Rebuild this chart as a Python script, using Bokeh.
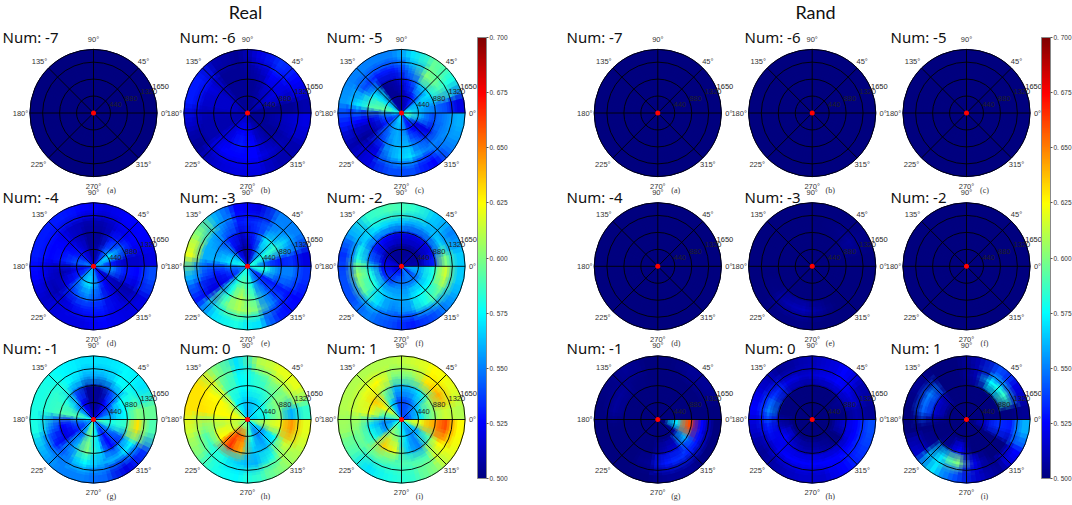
from math import cos, sin, radians
from bokeh.plotting import figure, ColumnDataSource
from bokeh.models import LinearColorMapper, ColorBar, FixedTicker, Range1d, CustomJSTickFormatter
from bokeh.core.properties import value
from bokeh.transform import transform
from bokeh.embed import file_html
from bokeh.resources import INLINE

# every panel: 16 sectors (0-22.5 deg first, going anticlockwise), 5 rings (centre first)
flat = [[.5, .5, .5, .5, .5] for s in range(16)]

real_m7 = flat
real_m6 = [[.505,.505,.505,.505,.51],[.51,.515,.52,.52,.525],[.505,.51,.515,.525,.535],[.505,.505,.505,.51,.52],
	[.505,.505,.505,.505,.505],[.505,.505,.505,.505,.51],[.51,.515,.515,.52,.53],[.51,.515,.515,.515,.53],
	[.51,.51,.51,.51,.515],[.51,.51,.51,.51,.505],[.515,.52,.52,.525,.515],[.515,.525,.53,.525,.52],
	[.51,.52,.525,.525,.52],[.505,.51,.51,.515,.51],[.505,.505,.505,.51,.51],[.505,.505,.51,.515,.52]]
real_m5 = [[.58,.56,.55,.54,.52],[.56,.56,.57,.59,.58],[.52,.53,.56,.60,.595],[.51,.515,.53,.55,.57],
	[.505,.505,.51,.53,.55],[.51,.505,.505,.53,.55],[.56,.57,.57,.54,.55],[.58,.595,.59,.57,.555],
	[.56,.54,.52,.525,.53],[.54,.53,.51,.505,.51],[.56,.55,.54,.52,.52],[.57,.56,.56,.56,.54],
	[.55,.55,.56,.57,.54],[.53,.525,.54,.55,.525],[.57,.52,.52,.55,.55],[.59,.56,.54,.55,.56]]
real_m4 = [[.56,.53,.515,.515,.52],[.56,.57,.545,.525,.525],[.53,.54,.53,.52,.525],[.51,.51,.505,.51,.52],
	[.51,.505,.505,.51,.525],[.52,.52,.515,.515,.53],[.54,.53,.525,.525,.53],[.55,.54,.53,.525,.53],
	[.53,.52,.51,.515,.525],[.54,.53,.52,.51,.515],[.56,.56,.54,.52,.52],[.56,.57,.55,.53,.52],
	[.55,.55,.54,.53,.525],[.53,.525,.52,.52,.52],[.52,.515,.51,.51,.52],[.55,.55,.53,.525,.54]]
real_m3 = [[.58,.545,.53,.535,.52],[.58,.58,.585,.565,.55],[.54,.555,.57,.55,.55],[.51,.52,.53,.535,.52],
	[.51,.505,.515,.53,.525],[.53,.52,.53,.55,.56],[.57,.56,.55,.56,.60],[.58,.57,.56,.56,.62],
	[.55,.54,.53,.54,.56],[.55,.53,.52,.52,.53],[.58,.58,.58,.59,.57],[.58,.595,.61,.61,.58],
	[.57,.58,.59,.60,.57],[.55,.545,.55,.55,.53],[.54,.53,.53,.53,.525],[.58,.58,.55,.55,.535]]
real_m2 = [[.51,.51,.53,.60,.565],[.51,.505,.52,.565,.55],[.51,.505,.52,.56,.565],[.505,.505,.52,.56,.585],
	[.505,.505,.52,.565,.59],[.505,.505,.525,.57,.585],[.51,.51,.53,.565,.56],[.52,.52,.545,.58,.535],
	[.52,.53,.58,.605,.54],[.52,.535,.58,.595,.54],[.53,.54,.565,.57,.55],[.53,.55,.56,.55,.54],
	[.54,.55,.56,.555,.53],[.55,.55,.575,.58,.54],[.53,.55,.575,.595,.555],[.56,.56,.58,.615,.565]]
real_m1 = [[.555,.56,.575,.60,.595],[.53,.545,.575,.58,.57],[.52,.525,.54,.575,.575],[.51,.505,.505,.56,.57],
	[.51,.505,.505,.56,.57],[.52,.525,.54,.575,.575],[.55,.56,.58,.585,.58],[.58,.59,.59,.585,.58],
	[.56,.54,.525,.55,.58],[.55,.53,.52,.53,.56],[.57,.55,.56,.55,.55],[.60,.595,.60,.575,.55],
	[.57,.57,.57,.56,.545],[.545,.525,.525,.56,.52],[.55,.55,.54,.575,.535],[.59,.58,.585,.63,.59]]
real_0 = [[.565,.58,.60,.56,.585],[.57,.58,.60,.60,.62],[.565,.57,.585,.60,.62],[.56,.565,.58,.585,.61],
	[.56,.565,.575,.575,.57],[.57,.575,.585,.595,.60],[.60,.615,.625,.625,.63],[.62,.625,.625,.63,.63],
	[.61,.615,.61,.60,.615],[.60,.62,.625,.585,.60],[.60,.66,.665,.58,.58],[.60,.65,.64,.565,.575],
	[.59,.58,.565,.56,.585],[.56,.55,.56,.58,.60],[.575,.56,.575,.615,.61],[.60,.61,.62,.645,.62]]
real_1 = [[.54,.57,.60,.615,.61],[.54,.565,.60,.64,.62],[.54,.55,.57,.63,.625],[.54,.54,.56,.60,.615],
	[.54,.54,.56,.60,.61],[.56,.57,.60,.625,.61],[.60,.625,.635,.62,.61],[.59,.59,.62,.615,.61],
	[.56,.55,.57,.60,.605],[.58,.555,.58,.595,.59],[.59,.61,.635,.595,.57],[.58,.60,.62,.59,.58],
	[.565,.57,.565,.59,.585],[.56,.55,.55,.59,.60],[.58,.56,.59,.625,.62],[.61,.62,.64,.66,.625]]

rand_m7 = flat
rand_m6 = flat
rand_m5 = flat
rand_m4 = flat
rand_m3 = [[.5,.5,.5,.5,.5],[.5,.5,.502,.506,.502],[.5,.5,.5,.502,.5],[.5,.5,.5,.5,.5],
	[.5,.5,.5,.5,.5],[.5,.5,.5,.5,.5],[.5,.5,.5,.5,.5],[.5,.5,.5,.5,.5],
	[.5,.5,.5,.5,.5],[.5,.5,.5,.502,.5],[.5,.5,.5,.51,.502],[.5,.5,.5,.512,.502],
	[.5,.5,.5,.506,.5],[.5,.5,.5,.5,.5],[.5,.5,.5,.5,.5],[.5,.5,.5,.5,.5]]
rand_m2 = flat
rand_m1 = [[.5,.5,.5,.5,.5],[.5,.5,.5,.5,.505],[.5,.5,.5,.5,.505],[.5,.5,.5,.5,.5],
	[.5,.5,.5,.5,.5],[.5,.5,.5,.502,.505],[.5,.5,.5,.506,.502],[.5,.5,.5,.506,.5],
	[.5,.5,.5,.5,.5],[.5,.5,.5,.5,.5],[.5,.5,.5,.5,.5],[.5,.5,.5,.505,.5],
	[.5,.5,.51,.53,.505],[.5,.5,.515,.535,.505],[.5,.505,.56,.53,.5],[.5,.57,.66,.525,.5]]
rand_0 = [[.5,.5,.5,.51,.505],[.5,.5,.505,.52,.51],[.5,.5,.5,.525,.525],[.5,.5,.5,.52,.515],
	[.5,.5,.5,.515,.51],[.5,.5,.5,.52,.505],[.5,.5,.5,.535,.515],[.5,.5,.5,.55,.525],
	[.5,.5,.51,.53,.515],[.5,.5,.525,.52,.505],[.5,.5,.515,.525,.51],[.5,.5,.51,.525,.515],
	[.5,.5,.51,.525,.515],[.5,.5,.505,.525,.525],[.5,.5,.5,.525,.535],[.5,.5,.515,.525,.54]]
rand_1 = [[.5,.5,.5,.5,.505],[.5,.5,.5,.585,.52],[.5,.5,.5,.575,.54],[.5,.5,.5,.51,.51],
	[.5,.5,.5,.5,.5],[.5,.5,.5,.5,.5],[.5,.5,.515,.55,.505],[.5,.5,.515,.545,.5],
	[.5,.5,.5,.5,.5],[.5,.5,.5,.505,.515],[.5,.5,.505,.57,.57],[.5,.5,.525,.60,.54],
	[.5,.5,.5,.52,.515],[.5,.5,.5,.5,.505],[.5,.5,.5,.5,.525],[.5,.515,.535,.53,.56]]

real_panels = [real_m7, real_m6, real_m5, real_m4, real_m3, real_m2, real_m1, real_0, real_1]
rand_panels = [rand_m7, rand_m6, rand_m5, rand_m4, rand_m3, rand_m2, rand_m1, rand_0, rand_1]
num_labels = ["Num: -7", "Num: -6", "Num: -5", "Num: -4", "Num: -3", "Num: -2", "Num: -1", "Num: 0", "Num: 1"]
sub_labels = ["(a)", "(b)", "(c)", "(d)", "(e)", "(f)", "(g)", "(h)", "(i)"]
ring_ticks = [440, 880, 1320, 1650]
angle_ticks = [0, 45, 90, 135, 180, 225, 270, 315]
ring_edges = [0, 330, 660, 990, 1320, 1650]
bar_ticks = [0.5, 0.525, 0.55, 0.575, 0.6, 0.625, 0.65, 0.675, 0.7]
bar_labels = ["0. 500", "0. 525", "0. 550", "0. 575", "0. 600", "0. 625", "0. 650", "0. 675", "0. 700"]

W, H = 1072, 505
R = 63.6
ROWS = [112.5, 265.8, 419.0]
NUM_Y = [36, 196, 347]
REAL_COLS = [93.0, 247.0, 401.0]
RAND_COLS = [657.3, 811.7, 966.0]
BAR_TOP, BAR_BOTTOM = 37, 478

# jet, as matplotlib draws it
anchors = [(0, 0, 127), (0, 0, 255), (0, 127, 255), (0, 255, 255), (127, 255, 127),
	(255, 255, 0), (255, 127, 0), (255, 0, 0), (127, 0, 0)]
jet = []
for i in range(256):
	t = i / 255 * 8
	k = min(int(t), 7)
	f = t - k
	c = [round(anchors[k][n] + (anchors[k + 1][n] - anchors[k][n]) * f) for n in range(3)]
	jet.append("#%02x%02x%02x" % tuple(c))
mapper = LinearColorMapper(palette=jet, low=0.5, high=0.7)

p = figure(width=W, height=H, x_range=Range1d(0, W), y_range=Range1d(0, H),
	output_backend="svg", toolbar_location=None, min_border=0, outline_line_color=None)
p.axis.visible = False
p.grid.visible = False

def label(x, y, txt, size, font="Liberation Sans", color="#333333", align="center", base="middle"):
	p.text(x=[x], y=[H - y], text=[txt], text_font=value(font), text_font_size=size,
		text_color=color, text_align=align, text_baseline=base)

def draw_cells(cx, cy_up, cells, grow, alpha):
	# grow > 0 widens each cell over its neighbours so the sharp cell edges soften;
	# nothing is drawn across the 0 deg line, the data really jump there
	xs, ys, inner, outer, start, end, vals = [], [], [], [], [], [], []
	for s in range(16):
		for r in range(5):
			dr = (ring_edges[r + 1] - ring_edges[r]) * grow
			xs.append(cx)
			ys.append(cy_up)
			inner.append(max(ring_edges[r] - dr, 0) * R / 1650)
			outer.append(min(ring_edges[r + 1] + dr, 1650) * R / 1650)
			start.append(radians(max(22.5 * (s - grow), 0)))
			end.append(radians(min(22.5 * (s + 1 + grow), 360)))
			vals.append(cells[s][r])
	src = ColumnDataSource(dict(x=xs, y=ys, inner=inner, outer=outer, start=start, end=end, v=vals))
	if grow == 0:
		p.annular_wedge(x="x", y="y", inner_radius="inner", outer_radius="outer", start_angle="start", end_angle="end",
			source=src, fill_color=transform("v", mapper), line_color=transform("v", mapper), line_width=0.8)
	else:
		p.annular_wedge(x="x", y="y", inner_radius="inner", outer_radius="outer", start_angle="start", end_angle="end",
			source=src, fill_color=transform("v", mapper), fill_alpha=alpha, line_color=None)

def draw_panel(cx, cy, cells, num, sub, num_x, num_y):
	cy_up = H - cy
	draw_cells(cx, cy_up, cells, 0, 1)
	draw_cells(cx, cy_up, cells, 0.4, 0.4)
	draw_cells(cx, cy_up, cells, 0.2, 0.4)
	# grid on top
	for a in angle_ticks:
		p.line([cx, cx + R * cos(radians(a))], [cy_up, cy_up + R * sin(radians(a))], line_color="black", line_width=0.9)
	p.circle(x=[cx] * 4, y=[cy_up] * 4, radius=[t * R / 1650 for t in ring_ticks], fill_color=None,
		line_color="black", line_width=0.9)
	p.scatter(x=[cx], y=[cy_up], size=5, fill_color="#ff0000", line_color=None)
	for a in angle_ticks:
		dx = {0: 71, 45: 50, 90: 0, 135: -54, 180: -73, 225: -55, 270: 0, 315: 50}[a]
		dy = {0: 0, 45: -52, 90: -74, 135: -52, 180: 0, 225: 51, 270: 73, 315: 51}[a]
		label(cx + dx, cy + dy, str(a) + "\u00b0", "7.5px")
	for t in ring_ticks:
		label(cx + t * R / 1650 * cos(radians(22.5)), cy - t * R / 1650 * sin(radians(22.5)) - 2, str(t),
			"7.5px", color="#222222", align="left")
	label(num_x, num_y, num, "15px", font="Noto Sans", color="#111111", align="left")
	label(cx + 18, cy + 77, sub, "8px", font="Liberation Serif")

for i in range(9):
	cy = ROWS[i // 3]
	num_y = NUM_Y[i // 3]
	draw_panel(REAL_COLS[i % 3], cy, real_panels[i], num_labels[i], sub_labels[i], [2, 179, 326][i % 3], num_y)
	draw_panel(RAND_COLS[i % 3], cy, rand_panels[i], num_labels[i], sub_labels[i], [566, 744, 890][i % 3], num_y)

label(245, 11, "Real", "18px", font="Lato", color="#111111")
label(815, 11, "Rand", "18px", font="Lato", color="#111111")

for bar_x in [477, 1041]:
	bar = ColorBar(color_mapper=mapper, ticker=FixedTicker(ticks=bar_ticks),
		formatter=CustomJSTickFormatter(code='return ""'),
		location=(bar_x, H - BAR_BOTTOM), width=9, height=BAR_BOTTOM - BAR_TOP, padding=0, margin=0,
		background_fill_color=None, border_line_color=None, bar_line_color="#888888",
		major_tick_line_color="#555555", major_tick_in=0, major_tick_out=2)
	p.add_layout(bar, "center")
	for t, txt in zip(bar_ticks, bar_labels):
		label(bar_x + 12, BAR_BOTTOM - (t - 0.5) / 0.2 * (BAR_BOTTOM - BAR_TOP), txt, "6.5px", align="left")

open("out.html", "w").write(file_html(p, INLINE))
